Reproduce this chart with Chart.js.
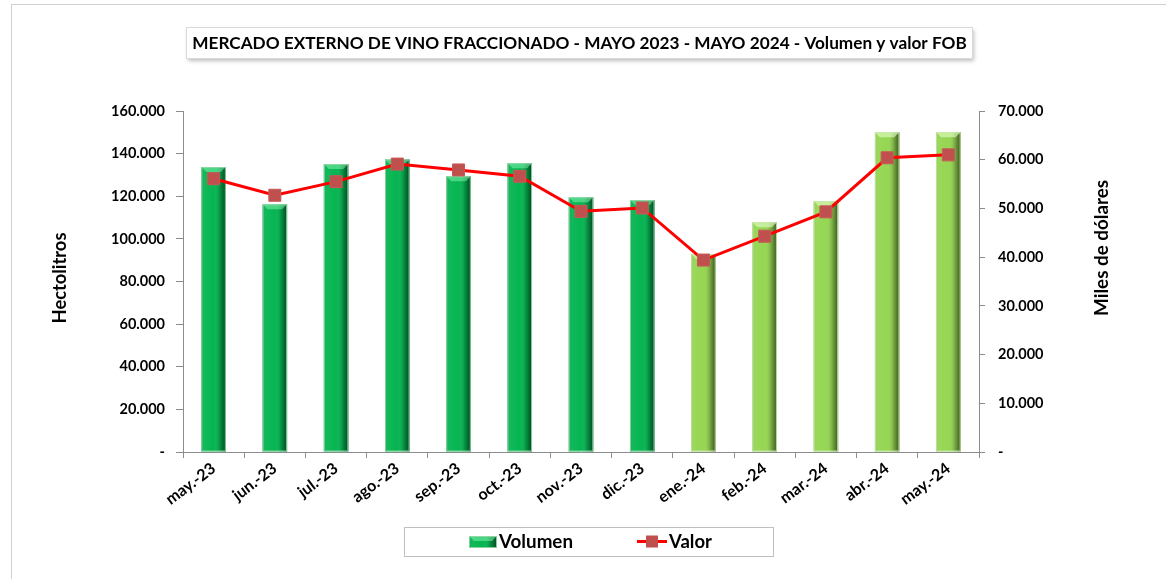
<!DOCTYPE html>
<html><head><meta charset="utf-8">
<script src="https://cdn.jsdelivr.net/npm/chart.js@4.4.1/dist/chart.umd.min.js"></script>
<style>html,body{margin:0;padding:0;background:#fff;overflow:hidden}</style>
</head><body>
<canvas id="c" width="1166" height="579" style="display:block;width:1166px;height:579px"></canvas>
<script>
const titleText = 'MERCADO EXTERNO DE VINO FRACCIONADO - MAYO 2023 - MAYO 2024 - Volumen y valor FOB';
const categories = ['may.-23','jun.-23','jul.-23','ago.-23','sep.-23','oct.-23','nov.-23','dic.-23','ene.-24','feb.-24','mar.-24','abr.-24','may.-24'];
const volumen = [133700,116200,135100,137300,129400,135500,119500,118200,92900,107800,117800,150000,150000];
const valor = [56100,52700,55500,59100,57900,56600,49400,50100,39400,44300,49300,60400,61000];
const leftTickLabels = ['-','20.000','40.000','60.000','80.000','100.000','120.000','140.000','160.000'];
const rightTickLabels = ['-','10.000','20.000','30.000','40.000','50.000','60.000','70.000'];
const leftAxisTitle = 'Hectolitros';
const rightAxisTitle = 'Miles de dólares';
const seriesNames = ['Volumen','Valor'];

const FONT = 'Lato, "Open Sans", sans-serif';
const AXIS = '#8c8c8c';
const DARK = '#05b551';
const LIGHT = '#95d652';
const barColor = (i) => categories[i].endsWith('24') ? LIGHT : DARK;

function fitSize(ctx, text, w) {
  ctx.font = `bold 100px ${FONT}`;
  return 100 * w / ctx.measureText(text).width;
}

function shadeBar(ctx, x0, y0, w, h, isLight) {
  const g = ctx.createLinearGradient(x0, 0, x0 + w, 0);
  g.addColorStop(0, 'rgba(0,0,0,0.18)');
  g.addColorStop(0.1, 'rgba(255,255,255,0.05)');
  g.addColorStop(0.5, 'rgba(255,255,255,0.0)');
  g.addColorStop(0.75, 'rgba(0,0,0,0.18)');
  g.addColorStop(1, 'rgba(0,0,0,0.6)');
  ctx.fillStyle = g;
  ctx.fillRect(x0, y0, w, h);
  const b = Math.min(5, h);
  ctx.beginPath();
  ctx.moveTo(x0, y0); ctx.lineTo(x0 + w, y0);
  ctx.lineTo(x0 + w - 5, y0 + b); ctx.lineTo(x0 + 5, y0 + b); ctx.closePath();
  ctx.fillStyle = isLight ? 'rgba(230,255,200,0.6)' : 'rgba(150,255,190,0.45)';
  ctx.fill();
  ctx.strokeStyle = isLight ? 'rgba(200,235,170,0.9)' : 'rgba(150,215,170,0.9)';
  ctx.lineWidth = 1;
  ctx.strokeRect(x0 + 0.5, y0 + 0.5, w - 1, h - 1);
}

const decor = {
  id: 'decor',
  beforeDraw(chart) {
    const ctx = chart.ctx;
    ctx.save();
    ctx.fillStyle = '#fff';
    ctx.fillRect(0, 0, chart.width, chart.height);
    ctx.strokeStyle = '#d0d0d0';
    ctx.lineWidth = 1;
    ctx.strokeRect(11.5, 4.5, 1200, 700);
    ctx.shadowColor = 'rgba(0,0,0,0.25)';
    ctx.shadowBlur = 4; ctx.shadowOffsetX = 2; ctx.shadowOffsetY = 3;
    ctx.fillStyle = '#fff';
    ctx.fillRect(186, 27, 786, 31);
    ctx.shadowColor = 'transparent';
    ctx.strokeStyle = '#d9d9d9';
    ctx.strokeRect(186.5, 27.5, 786, 31);
    const ts = fitSize(ctx, titleText, 775);
    ctx.font = `bold ${ts}px ${FONT}`;
    ctx.fillStyle = '#000';
    ctx.textAlign = 'center'; ctx.textBaseline = 'alphabetic';
    ctx.fillText(titleText, 579.5, 49);
    let s = fitSize(ctx, leftAxisTitle, 91);
    ctx.font = `bold ${s}px ${FONT}`;
    ctx.save(); ctx.translate(60, 278); ctx.rotate(-Math.PI / 2);
    ctx.textBaseline = 'middle'; ctx.fillText(leftAxisTitle, 0, 0); ctx.restore();
    s = fitSize(ctx, rightAxisTitle, 136);
    ctx.font = `bold ${s}px ${FONT}`;
    ctx.save(); ctx.translate(1102, 248); ctx.rotate(-Math.PI / 2);
    ctx.textBaseline = 'middle'; ctx.fillText(rightAxisTitle, 0, 0); ctx.restore();
    ctx.strokeStyle = '#bfbfbf';
    ctx.strokeRect(404.5, 527.5, 369, 29);
    ctx.fillStyle = DARK;
    ctx.fillRect(469, 536, 28, 12);
    shadeBar(ctx, 469, 536, 28, 12, false);
    ctx.fillStyle = '#000';
    ctx.textAlign = 'left'; ctx.textBaseline = 'alphabetic';
    s = fitSize(ctx, seriesNames[0], 74);
    ctx.font = `bold ${s}px ${FONT}`;
    ctx.fillText(seriesNames[0], 499, 548);
    ctx.strokeStyle = '#ff0000'; ctx.lineWidth = 3;
    ctx.beginPath(); ctx.moveTo(637, 541.5); ctx.lineTo(667, 541.5); ctx.stroke();
    ctx.fillStyle = '#c0504d';
    ctx.fillRect(646, 535.5, 12, 12);
    ctx.fillStyle = '#000';
    s = fitSize(ctx, seriesNames[1], 43);
    ctx.font = `bold ${s}px ${FONT}`;
    ctx.fillText(seriesNames[1], 669, 548);
    ctx.restore();
  },
  afterDatasetDraw(chart, args) {
    if (args.index !== 0) return;
    const ctx = chart.ctx;
    ctx.save();
    args.meta.data.forEach((el, i) => {
      const p = el.getProps(['x', 'y', 'width', 'base'], true);
      shadeBar(ctx, p.x - p.width / 2, p.y, p.width, p.base - p.y, barColor(i) === LIGHT);
    });
    ctx.restore();
  }
};

new Chart(document.getElementById('c'), {
  data: {
    labels: categories,
    datasets: [
      {
        type: 'bar', label: seriesNames[0], data: volumen, yAxisID: 'y', order: 1,
        backgroundColor: (c) => barColor(c.dataIndex),
        categoryPercentage: 1.0, barPercentage: 0.4, borderWidth: 0
      },
      {
        type: 'line', label: seriesNames[1], data: valor, yAxisID: 'y1', order: 0,
        borderColor: '#ff0000', borderWidth: 3, tension: 0,
        pointStyle: 'rect', pointRadius: 8.5, pointBackgroundColor: '#c0504d',
        pointBorderColor: '#c65a57', pointBorderWidth: 1, pointHoverRadius: 8.5
      }
    ]
  },
  options: {
    responsive: false, animation: false,
    layout: { padding: { left: 0, right: 0, top: 111, bottom: 0 } },
    plugins: { legend: { display: false }, title: { display: false }, tooltip: { enabled: false } },
    scales: {
      x: {
        type: 'category', offset: true,
        grid: { offset: true, drawOnChartArea: false, drawTicks: true, tickLength: 6, color: AXIS },
        border: { display: true, color: AXIS, width: 1 },
        ticks: { color: '#000', font: { family: FONT, weight: 'bold', size: 16 }, minRotation: 37, maxRotation: 37, padding: 1, autoSkip: false },
        afterFit(s) { s.height = 579 - 452; }
      },
      y: {
        position: 'left', min: 0, max: 160000,
        grid: { drawOnChartArea: false, drawTicks: true, tickLength: 7, color: AXIS },
        border: { display: true, color: AXIS, width: 1 },
        ticks: { stepSize: 20000, color: '#000', font: { family: FONT, weight: 'bold', size: 14.5 }, padding: 11,
          callback: (v, i) => leftTickLabels[i] },
        afterFit(s) { s.width = 183; }
      },
      y1: {
        position: 'right', min: 0, max: 70000,
        grid: { drawOnChartArea: false, drawTicks: true, tickLength: 6, color: AXIS },
        border: { display: true, color: AXIS, width: 1 },
        ticks: { stepSize: 10000, color: '#000', font: { family: FONT, weight: 'bold', size: 14.5 }, padding: 13,
          callback: (v, i) => rightTickLabels[i] },
        afterFit(s) { s.width = 1166 - 979; }
      }
    }
  },
  plugins: [decor]
});
</script>
</body></html>
